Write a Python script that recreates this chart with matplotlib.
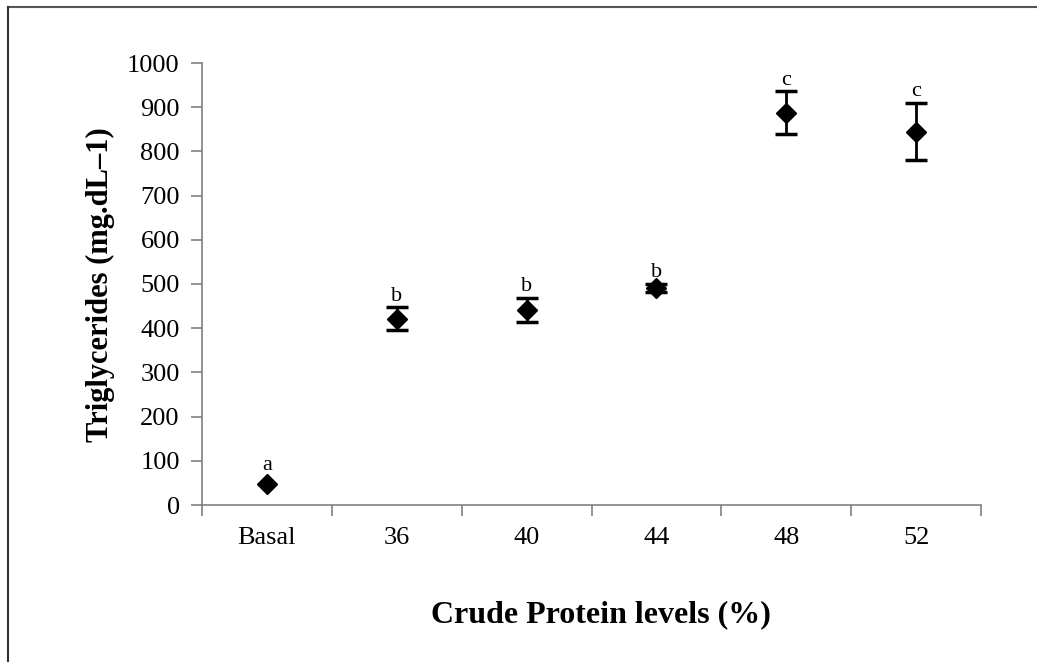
import matplotlib
matplotlib.use("Agg")
import matplotlib.pyplot as plt
from matplotlib.lines import Line2D

categories = ["Basal", "36", "40", "44", "48", "52"]
means = [48, 421, 441, 491, 888, 845]
errors = [0, 26, 27, 10, 48, 64]
letters = ["a", "b", "b", "b", "c", "c"]
yticks = [0, 100, 200, 300, 400, 500, 600, 700, 800, 900, 1000]

plt.rcParams['font.family'] = ['Liberation Serif', 'DejaVu Serif']

W, H = 1037, 662
fig = plt.figure(figsize=(W/100, H/100), dpi=100)
ax = fig.add_axes([202/W, 1-505/H, (981-202)/W, (505-63)/H])

x = list(range(len(categories)))
ex = [xi for xi, e in zip(x, errors) if e > 0]
em = [m for m, e in zip(means, errors) if e > 0]
ee = [e for e in errors if e > 0]
ax.errorbar(ex, em, yerr=ee, fmt='none', ecolor='black', elinewidth=2,
            capsize=8, capthick=2.5, zorder=2)
ax.plot(x, means, 'D', color='black', ms=10, zorder=3, linestyle='none')
for xi, m, e, l in zip(x, means, errors, letters):
    off = e + 4 if e > 0 else 20
    ax.text(xi, m + off, l, ha='center', va='bottom', fontsize=16)

ax.set_xlim(-0.5, len(categories) - 0.5)
ax.set_ylim(0, 1000)
ax.set_yticks(yticks)
ax.set_yticklabels([str(v) for v in yticks], fontsize=19)
ax.set_xticks([i - 0.5 for i in range(len(categories) + 1)])
ax.set_xticklabels([])
ax.set_xticks(x, minor=True)
ax.set_xticklabels(categories, minor=True, fontsize=19)
ax.tick_params(axis='x', which='minor', length=0, pad=16)
ax.tick_params(axis='x', which='major', length=8, direction='out', color='#808080', width=1.2)
ax.tick_params(axis='y', length=8, direction='out', color='#808080', width=1.2, pad=8)
for s in ['top', 'right']:
    ax.spines[s].set_visible(False)
for s in ['left', 'bottom']:
    ax.spines[s].set_color('#808080')
    ax.spines[s].set_linewidth(1.2)

fig.text(100/W, 1-285/H, "Triglycerides (mg.dL–1)", rotation=90, ha='center', va='center',
         fontsize=22, fontweight='bold')
fig.text(601/W, 1-615/H, "Crude Protein levels (%)", ha='center', va='center',
         fontsize=23, fontweight='bold')

fig.add_artist(Line2D([8/W, 1.0], [1-7/H, 1-7/H], transform=fig.transFigure, color='#555555', lw=1.5))
fig.add_artist(Line2D([8/W, 8/W], [0, 1-7/H], transform=fig.transFigure, color='#333333', lw=1.5))

fig.savefig("out.png", dpi=100)
